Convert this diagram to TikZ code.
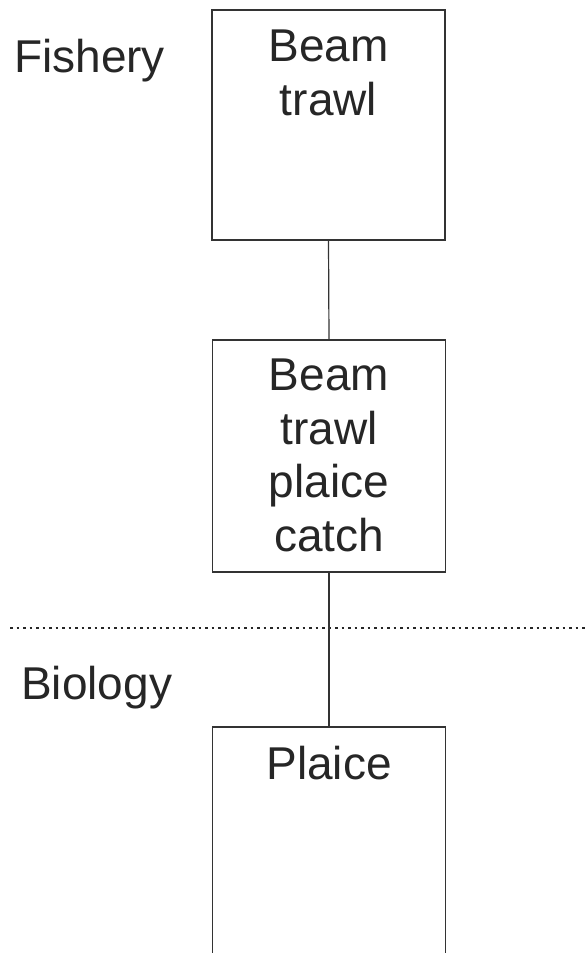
\documentclass[tikz,border=0pt]{standalone}
\usepackage{fontspec}
\setmainfont{Liberation Sans}
\begin{document}
\begin{tikzpicture}[x=1pt,y=-1pt,
  box/.style={draw=black!80,line width=1.3pt,fill=white,minimum width=233pt,inner sep=0pt,outer sep=0pt},
  txt/.style={font=\fontsize{46}{53.5}\selectfont,align=center,inner sep=0pt,text=black!85},
  lbl/.style={font=\fontsize{46}{53.5}\selectfont,inner sep=0pt,anchor=base west,text=black!85},
  conn/.style={draw=black!80,line width=1.2pt},
  sep/.style={draw=black!85,line width=1.5pt,dash pattern=on 2.5pt off 4pt}]
\useasboundingbox (0,0) rectangle (585,953);
\clip (0,0) rectangle (585,953);
\fill[white] (0,0) rectangle (585,953);
% separator
\coordinate (sepL) at (10,628);
\coordinate (sepR) at (585,628);
\draw[sep] (sepL) -- (sepR);
% boxes
\node[box,minimum height=230pt] (b1) at (328.5,125) {};
\node[box,minimum height=232pt] (b2) at (329,456) {};
\node[box,minimum height=260pt] (b3) at (329,857) {};
% connectors
\draw[conn] (b1.south) -- (b2.north);
\draw[conn] (b2.south) -- (b3.north);
% texts
\node[txt,anchor=north] (t1) at (328.5,30) {Beam\\trawl};
\node[txt,anchor=north] (t2) at (329,359) {Beam\\trawl\\plaice\\catch};
\node[txt,anchor=north] (t3) at (329,746) {Plaice};
\node[lbl] (fish) at (14,72) {Fishery};
\node[lbl] (bio) at (21,699) {Biology};
\end{tikzpicture}
\end{document}
